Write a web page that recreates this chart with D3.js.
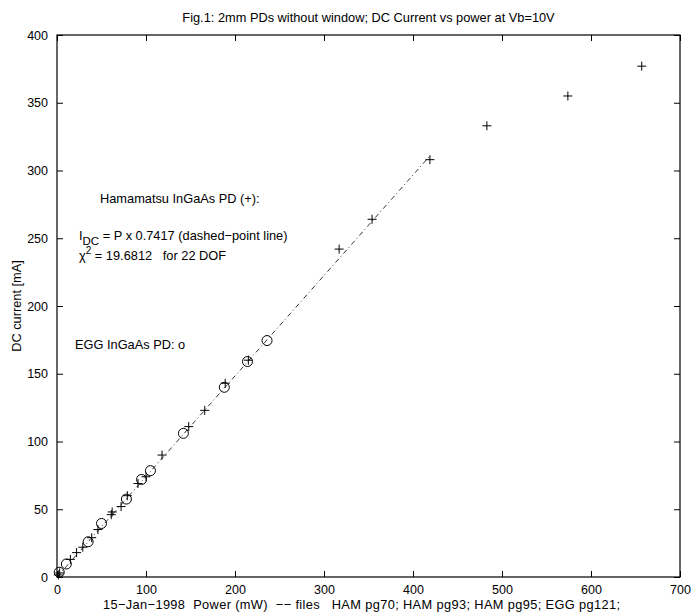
<!DOCTYPE html>
<html>
<head>
<meta charset="utf-8">
<script src="https://cdn.jsdelivr.net/npm/d3@7"></script>
<style>
  body { margin: 0; background: #fff; }
  svg text { font-family: "Liberation Sans", Arial, Helvetica, sans-serif; fill: #000; }
</style>
</head>
<body>
<svg id="chart" width="694" height="615"></svg>
<script>
// Hamamatsu InGaAs PD (+) : [power mW, current mA]
const hamPoints = [
  [1.5, 1.5], [3, 3], [15, 13], [22, 18], [29, 22], [39, 29], [46, 35],
  [61, 46], [62, 48], [72, 52], [79, 60], [91, 69], [100, 74], [118, 90],
  [148, 111], [166, 123], [189, 143], [215, 160], [317, 242], [354, 264],
  [419, 308], [483, 333], [574, 355], [657, 377]
];
// EGG InGaAs PD (o)
const eggPoints = [
  [2.5, 3.5], [10.5, 9.6], [35, 26], [50, 39.5], [78, 57.5], [95, 72],
  [105, 78.5], [142, 106], [188, 140], [214, 159], [236, 174.5]
];
// fitted line I = P x 0.7417
const fitSlope = 0.7417;
const fitRange = [0, 419];

const xTicks = [0, 100, 200, 300, 400, 500, 600, 700];
const yTicks = [0, 50, 100, 150, 200, 250, 300, 350, 400];

const svg = d3.select("#chart");
const margin = { left: 57, right: 14, top: 35, bottom: 38 };
const W = 694, H = 615;

const x = d3.scaleLinear().domain([0, 700]).range([margin.left, W - margin.right]);
const y = d3.scaleLinear().domain([0, 400]).range([H - margin.bottom, margin.top]);

// 坐标轴（刻度朝内，四边都有）
const tickLen = 6;
svg.append("g").attr("transform", `translate(0,${y(0)})`)
  .call(d3.axisBottom(x).tickValues(xTicks).tickSize(-tickLen).tickPadding(8))
  .call(g => g.select(".domain").remove());
svg.append("g").attr("transform", `translate(0,${y(400)})`)
  .call(d3.axisTop(x).tickValues(xTicks).tickSize(-tickLen).tickFormat(""))
  .call(g => g.select(".domain").remove());
svg.append("g").attr("transform", `translate(${x(0)},0)`)
  .call(d3.axisLeft(y).tickValues(yTicks).tickSize(-tickLen).tickPadding(9))
  .call(g => g.select(".domain").remove());
svg.append("g").attr("transform", `translate(${x(700)},0)`)
  .call(d3.axisRight(y).tickValues(yTicks).tickSize(-tickLen).tickFormat(""))
  .call(g => g.select(".domain").remove());

svg.selectAll(".tick text").style("font-size", "12.5px").style("font-family", "Liberation Sans, Arial, sans-serif");
svg.selectAll(".tick line").attr("stroke", "#000");

svg.append("rect")
  .attr("x", x(0)).attr("y", y(400))
  .attr("width", x(700) - x(0)).attr("height", y(0) - y(400))
  .attr("fill", "none").attr("stroke", "#000").attr("stroke-width", 1.2);

// 拟合直线（点划线）
svg.append("line")
  .attr("x1", x(fitRange[0])).attr("y1", y(fitRange[0] * fitSlope))
  .attr("x2", x(fitRange[1])).attr("y2", y(fitRange[1] * fitSlope))
  .attr("stroke", "#000").attr("stroke-width", 0.8)
  .attr("stroke-dasharray", "5,3,1,3");

// 数据点
const plusSize = 4.5;
svg.append("g").selectAll("path").data(hamPoints).enter().append("path")
  .attr("d", d => `M${x(d[0]) - plusSize},${y(d[1])}h${2 * plusSize}M${x(d[0])},${y(d[1]) - plusSize}v${2 * plusSize}`)
  .attr("stroke", "#000").attr("stroke-width", 1).attr("fill", "none");

svg.append("g").selectAll("circle").data(eggPoints).enter().append("circle")
  .attr("cx", d => x(d[0])).attr("cy", d => y(d[1])).attr("r", 5)
  .attr("stroke", "#000").attr("stroke-width", 1).attr("fill", "none");

// 标题与轴标签
svg.append("text").attr("x", (x(0) + x(700)) / 2).attr("y", 22)
  .attr("text-anchor", "middle").style("font-size", "12.8px")
  .text("Fig.1: 2mm PDs without window; DC Current vs power at Vb=10V");

svg.append("text").attr("x", 103).attr("y", 609)
  .style("font-size", "12.8px")
  .attr("textLength", 517).attr("lengthAdjust", "spacing")
  .attr("xml:space", "preserve")
  .text("15\u2212Jan\u22121998  Power (mW)  \u2212\u2212 files   HAM pg70; HAM pg93; HAM pg95; EGG pg121;");

svg.append("text")
  .attr("transform", `translate(21,${(y(0) + y(400)) / 2}) rotate(-90)`)
  .attr("text-anchor", "middle").style("font-size", "12.8px")
  .text("DC current [mA]");

// 注释文字
const note = svg.append("g").style("font-size", "12.8px");
note.append("text").attr("x", 100).attr("y", 203).text("Hamamatsu InGaAs PD (+):");

const t1 = note.append("text").attr("x", 79).attr("y", 240).attr("xml:space", "preserve");
t1.append("tspan").text("I");
t1.append("tspan").attr("dy", 4.5).style("font-size", "11.5px").text("DC");
t1.append("tspan").attr("dy", -4.5).text(" = P x 0.7417 (dashed\u2212point line)");

const t2 = note.append("text").attr("x", 79).attr("y", 260).attr("xml:space", "preserve");
t2.append("tspan").text("\u03c7");
t2.append("tspan").attr("dy", -6).style("font-size", "10px").text("2");
t2.append("tspan").attr("dy", 6).text(" = 19.6812   for 22 DOF");

note.append("text").attr("x", 75).attr("y", 349).text("EGG InGaAs PD: o");
</script>
</body>
</html>
